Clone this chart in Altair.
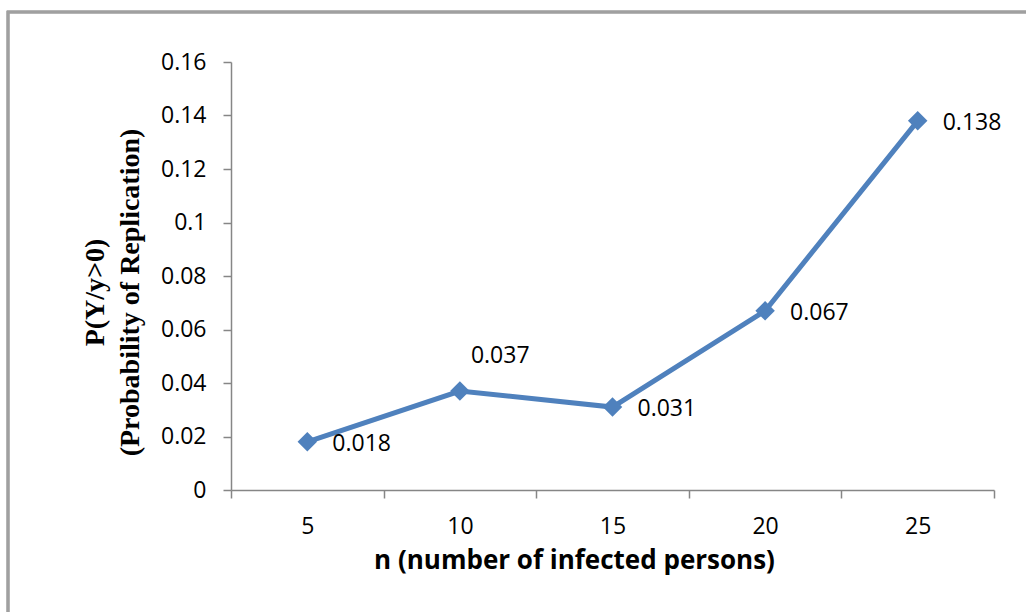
import altair as alt
import pandas as pd

# Probability of replication for each number of infected persons
n_values = ["5", "10", "15", "20", "25"]
probabilities = [0.018, 0.037, 0.031, 0.067, 0.138]
y_ticks = [0, 0.02, 0.04, 0.06, 0.08, 0.10, 0.12, 0.14, 0.16]

df = pd.DataFrame({"n": n_values, "p": probabilities})
df["label"] = [f"{v:.3f}" for v in probabilities]

BLUE = "#4F81BD"
AXIS_GRAY = "#868686"
LABEL_FONT = "Open Sans"

x_enc = alt.X(
    "n:N",
    sort=n_values,
    bandPosition=0.5,
    scale=alt.Scale(type="band", paddingInner=0, paddingOuter=0),
    axis=alt.Axis(
        title="n (number of infected persons)",
        titleFont=LABEL_FONT,
        titleFontSize=26,
        titleFontWeight="bold",
        titleColor="black",
        titleX=343,
        titleY=78,
        titleAnchor="middle",
        titleAlign="center",
        titleBaseline="alphabetic",
        labelAngle=0,
        labelFont=LABEL_FONT,
        labelFontSize=23,
        labelColor="black",
        labelPadding=17,
        tickBand="extent",
        tickSize=8,
        tickColor=AXIS_GRAY,
        tickWidth=1.5,
        domainColor=AXIS_GRAY,
        domainWidth=1.5,
        grid=False,
    ),
)

y_enc = alt.Y(
    "p:Q",
    scale=alt.Scale(domain=[0, 0.16], nice=False, zero=True),
    axis=alt.Axis(
        title=["P(Y/y>0)", "(Probability of Replication)"],
        titleFont="Liberation Serif",
        titleFontSize=28,
        titleFontWeight="bold",
        titleColor="black",
        titleLineHeight=35,
        titleAngle=270,
        titleX=-136,
        titleY=230,
        titleAlign="center",
        titleBaseline="middle",
        values=y_ticks,
        format="~g",
        labelFont=LABEL_FONT,
        labelFontSize=23,
        labelColor="black",
        labelPadding=17,
        tickSize=8,
        tickColor=AXIS_GRAY,
        tickWidth=1.5,
        domainColor=AXIS_GRAY,
        domainWidth=1.5,
        grid=False,
    ),
)

base = alt.Chart(df).encode(x=x_enc, y=y_enc)

line = base.mark_line(color=BLUE, strokeWidth=5)
points = base.mark_point(shape="diamond", filled=True, size=380, color=BLUE, opacity=1)

labels_right = base.transform_filter(alt.datum.n != "10").mark_text(
    align="left", baseline="middle", dx=25, dy=2, font=LABEL_FONT, fontSize=23, color="black"
).encode(text="label:N")

labels_above = base.transform_filter(alt.datum.n == "10").mark_text(
    align="left", baseline="middle", dx=11, dy=-35, font=LABEL_FONT, fontSize=23, color="black"
).encode(text="label:N")

# outer chart frame (top and left edges show; the rest runs off the canvas)
frame = alt.Chart(df).mark_rect(fill=None, stroke="#A0A0A0", strokeWidth=2.5).encode(
    x=alt.value(-223), x2=alt.value(900), y=alt.value(-50), y2=alt.value(700)
)

chart = (
    alt.layer(frame, line, points, labels_right, labels_above)
    .properties(
        width=763,
        height=428,
        padding={"left": 231, "top": 62, "right": 32, "bottom": 122},
        autosize=alt.AutoSizeParams(type="none"),
        background="white",
    )
    .configure_view(stroke=None)
)

chart.save("out.html", embed_options={"renderer": "svg", "actions": False})
